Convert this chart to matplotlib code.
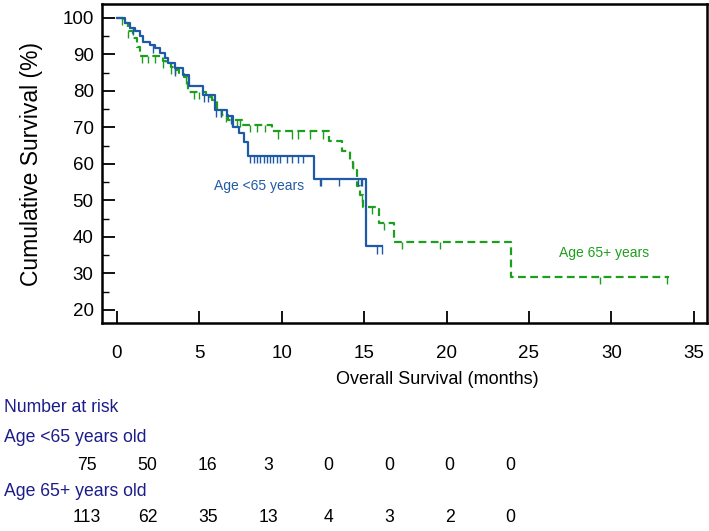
import numpy as np
import matplotlib
matplotlib.use("Agg")
import matplotlib.pyplot as plt
from matplotlib.ticker import MultipleLocator

plt.rcParams['font.family'] = ['Liberation Sans', 'DejaVu Sans']

# ---- data ----
blue_times = [0, 0.5, 0.8, 1.1, 1.4, 1.6, 2.0, 2.3, 2.6, 2.9, 3.1, 3.5, 4.0, 4.4, 5.2,
              5.95, 6.7, 7.05, 7.4, 7.7, 7.95, 11.93, 15.1]
blue_surv = [100, 98.5, 97.2, 96.3, 94.9, 93.5, 92.5, 91.7, 90.3, 89.0, 87.6, 86.2, 84.4,
             81.2, 79.0, 74.8, 73.0, 70.2, 68.4, 66.1, 62.2, 55.9, 37.4]
blue_end = 16.1
blue_censor = [1.0, 2.2, 3.5, 4.3, 5.3, 5.5, 6.0, 6.3, 6.9, 8.1, 8.3, 8.5, 8.7, 8.9, 9.1,
               9.3, 9.5, 9.7, 9.9, 10.3, 10.6, 11.0, 11.3, 12.3, 12.4, 13.5, 14.6, 14.8,
               14.9, 15.8, 16.1]

green_times = [0, 0.4, 0.7, 1.0, 1.2, 1.4, 2.8, 3.0, 3.3, 3.6, 3.8, 4.1, 4.3, 5.4, 5.8,
               6.1, 6.4, 6.75, 7.6, 9.4, 12.85, 13.65, 14.15, 14.35, 14.55, 14.76, 14.92,
               15.9, 16.8, 23.9]
green_surv = [100, 98.5, 96.5, 94.5, 92.0, 89.5, 88.3, 87.5, 86.6, 85.8, 84.9, 83.8, 79.8,
              78.4, 77.5, 74.8, 73.4, 72.0, 70.7, 68.9, 66.4, 63.6, 60.6, 58.4, 53.8, 51.5,
              48.3, 43.8, 38.7, 29.1]
green_end = 33.5
green_censor = [0.3, 0.7, 1.5, 1.9, 2.3, 2.8, 3.3, 3.5, 4.2, 4.7, 5.0, 6.3, 6.6, 7.0, 7.3,
                7.5, 8.1, 8.5, 9.0, 9.8, 10.6, 11.0, 11.7, 12.5, 14.3, 14.9, 15.5, 16.2,
                17.3, 19.6, 29.3, 33.4]

risk_times = [0, 5, 10, 15, 20, 25, 30, 35]
risk_young = [75, 50, 16, 3, 0, 0, 0, 0]
risk_old = [113, 62, 35, 13, 4, 3, 2, 0]

label_young = "Age <65 years"
label_old = "Age 65+ years"

# ---- style ----
BLUE = "#1f5aa6"
GREEN = "#1e9e1e"
NAVY = "#1c1c8a"

W, H = 709, 531
fig = plt.figure(figsize=(W / 100, H / 100), dpi=100)
ax = fig.add_axes([102 / W, 1 - 323 / H, (707 - 102) / W, (323 - 4) / H])


def draw_km(times, surv, end, censor, color, ls):
    t = np.array(list(times) + [end])
    s = np.array(list(surv) + [surv[-1]])
    ax.step(t, s, where="post", color=color, lw=1.6, linestyle=ls, zorder=3)
    c = np.array(censor)
    idx = np.searchsorted(np.array(times), c, side="right") - 1
    cs = np.array(surv)[idx]
    ax.vlines(c, cs - 2.0, cs, color=color, lw=1.0, zorder=3)


draw_km(green_times, green_surv, green_end, green_censor, GREEN, (0, (3.5, 2)))
draw_km(blue_times, blue_surv, blue_end, blue_censor, BLUE, "-")

ax.set_xlim(-0.9, 35.8)
ax.set_ylim(16.4, 103.8)
ax.xaxis.set_major_locator(MultipleLocator(5))
ax.yaxis.set_major_locator(MultipleLocator(10))
ax.yaxis.set_minor_locator(MultipleLocator(5))
ax.tick_params(axis="both", which="major", direction="in", length=9, width=1.3,
               labelsize=13.5, pad=6)
ax.tick_params(axis="y", which="minor", direction="in", length=5, width=1.0)
ax.tick_params(axis="x", pad=16)
for sp in ax.spines.values():
    sp.set_linewidth(1.8)

ax.set_xlabel("Overall Survival (months)", fontsize=13)
ax.xaxis.set_label_coords(0.555, -0.149)
ax.set_ylabel("Cumulative Survival (%)", fontsize=16.5, labelpad=14)

ax.text(5.9, 54, label_young, color=BLUE, fontsize=10, va="center", ha="left")
ax.text(26.8, 35.6, label_old, color=GREEN, fontsize=10, va="center", ha="left")

# ---- number at risk table ----
def fx(px):
    return px / W


def fy(py):
    return 1 - py / H


x0, x1 = 87, 510
rt = np.array(risk_times, dtype=float)
xs = x0 + (rt - rt[0]) / (rt[-1] - rt[0]) * (x1 - x0)

TS = 12.7
fig.text(fx(4), fy(408), "Number at risk", color=NAVY, fontsize=TS, va="center")
fig.text(fx(4), fy(437), "Age <65 years old", color=NAVY, fontsize=TS, va="center")
fig.text(fx(4), fy(492), "Age 65+ years old", color=NAVY, fontsize=TS, va="center")
for x, n in zip(xs, risk_young):
    fig.text(fx(x), fy(465), str(n), color="black", fontsize=TS, ha="center", va="center")
for x, n in zip(xs, risk_old):
    fig.text(fx(x), fy(518), str(n), color="black", fontsize=TS, ha="center", va="center")

fig.savefig("out.png", dpi=100)
